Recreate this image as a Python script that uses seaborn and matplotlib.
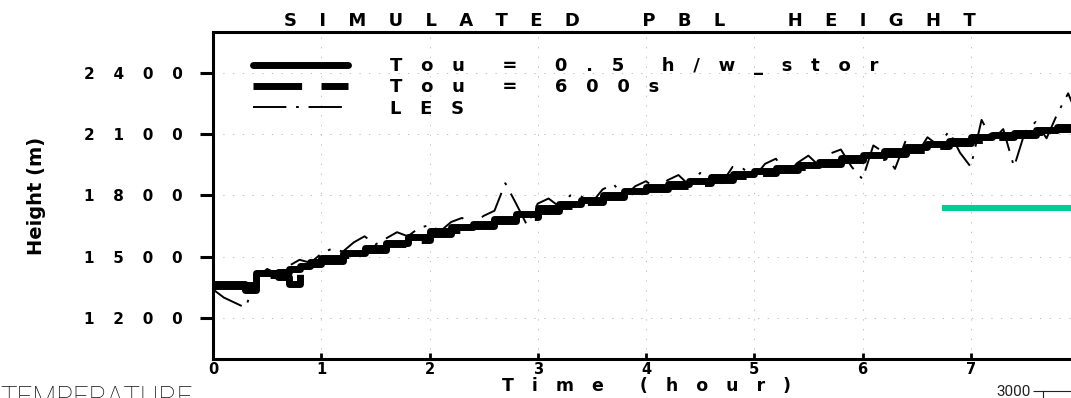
import numpy as np
import pandas as pd
import matplotlib
matplotlib.use("Agg")
import matplotlib.pyplot as plt
import seaborn as sns
from matplotlib import font_manager

# ---- data -------------------------------------------------------------
hours_model = [0.0, 0.1, 0.2, 0.3, 0.4, 0.5, 0.6, 0.7, 0.8, 0.9, 1.0,
               1.2, 1.4, 1.6, 1.8, 2.0, 2.2, 2.4, 2.6, 2.8, 3.0,
               3.2, 3.4, 3.6, 3.8, 4.0, 4.2, 4.4, 4.6, 4.8, 5.0,
               5.2, 5.4, 5.6, 5.8, 6.0, 6.2, 6.4, 6.6, 6.8, 7.0,
               7.2, 7.4, 7.6, 7.8, 8.0]

pbl_tou_05 = [1365, 1365, 1365, 1335, 1420, 1420, 1425, 1440, 1455, 1475, 1495,
              1520, 1545, 1565, 1595, 1625, 1645, 1660, 1685, 1710, 1740,
              1760, 1780, 1800, 1820, 1840, 1855, 1870, 1890, 1905, 1920,
              1935, 1950, 1965, 1985, 2000, 2020, 2035, 2050, 2065, 2085,
              2095, 2105, 2120, 2135, 2150]

pbl_tou_600 = [1355, 1355, 1355, 1360, 1400, 1410, 1400, 1365, 1440, 1465, 1480,
               1510, 1535, 1560, 1580, 1610, 1630, 1650, 1675, 1695, 1725,
               1750, 1770, 1790, 1810, 1830, 1845, 1860, 1875, 1895, 1910,
               1925, 1940, 1955, 1975, 1990, 2005, 2025, 2040, 2055, 2070,
               2085, 2095, 2110, 2125, 2140]

hours_les = np.round(np.arange(0, 81) * 0.1, 1)
pbl_les = [1340, 1300, 1275, 1250, 1395, 1440, 1415, 1455, 1485, 1470,
           1515, 1540, 1525, 1570, 1600, 1560, 1590, 1620, 1600, 1640,
           1655, 1625, 1670, 1690, 1660, 1700, 1725, 1860, 1760, 1655,
           1760, 1785, 1745, 1800, 1795, 1765, 1830, 1855, 1795, 1845,
           1870, 1830, 1875, 1900, 1850, 1910, 1885, 1860, 1940, 1930,
           1890, 1955, 1980, 1905, 1960, 1995, 1945, 2005, 2025, 1940,
           1880, 2045, 2010, 1930, 2070, 2000, 2085, 2045, 2115, 2010,
           1940, 2170, 2070, 2125, 1940, 2110, 2160, 2080, 2200, 2300,
           2170]

series_labels = ["Tou = 0.5 h/w_stor", "Tou = 600s", "LES"]
x_ticks = [0, 1, 2, 3, 4, 5, 6, 7, 8]
y_ticks = [1200, 1500, 1800, 2100, 2400]

overlay_level_m = 1740
overlay_hours = [6.73, 8.0]

temp_ticks = [3000]

# ---- style ------------------------------------------------------------
sns.set_theme(style="white")
plt.rcParams["font.family"] = ["DejaVu Sans"]
plt.rcParams["lines.scale_dashes"] = False
for key in ("text.color", "axes.labelcolor", "xtick.color", "ytick.color"):
    plt.rcParams[key] = "black"

names = {f.name for f in font_manager.fontManager.ttflist}
narrow = "Liberation Sans Narrow" if "Liberation Sans Narrow" in names else "DejaVu Sans"
thin = "Roboto" if "Roboto" in names else "DejaVu Sans"

GAP = "   \u2009"


def spaced(text, gap=GAP, word_gap=" " * 6):
    return word_gap.join(gap.join(w) for w in text.split(" "))


W, H = 1071, 398
fig = plt.figure(figsize=(W / 100, H / 100), dpi=100)
fig.patch.set_facecolor("white")

# main panel (its right edge lies just past the figure border)
ax = fig.add_axes([213 / W, (H - 358.8) / H, 866 / W, 326.7 / H])

df_les = pd.DataFrame({"hour": hours_les, "height": pbl_les})
df_600 = pd.DataFrame({"hour": hours_model, "height": pbl_tou_600})
df_05 = pd.DataFrame({"hour": hours_model, "height": pbl_tou_05})

sns.lineplot(data=df_05, x="hour", y="height", ax=ax, estimator=None,
             color="black", linewidth=5, drawstyle="steps-post",
             label=spaced(series_labels[0], gap="   "), zorder=3)
sns.lineplot(data=df_600, x="hour", y="height", ax=ax, estimator=None,
             color="black", linewidth=5, drawstyle="steps-post",
             linestyle=(0, (35, 14)), label=spaced(series_labels[1], gap="   "),
             zorder=3)
sns.lineplot(data=df_les, x="hour", y="height", ax=ax, estimator=None,
             color="black", linewidth=1.4, linestyle=(0, (24, 7, 2, 7)),
             label=spaced(series_labels[2], gap="   "), zorder=4)

ax.plot(overlay_hours, [overlay_level_m, overlay_level_m], color="#00CC96",
        linewidth=4.4, solid_capstyle="butt", zorder=5)

ax.set_xlim(0, 8)
ax.set_ylim(1000, 2600)
ax.grid(True, color="0.72", linestyle=(0, (1, 6)), linewidth=0.6)

ax.set_xticks(x_ticks)
ax.set_xticklabels([str(v) for v in x_ticks], fontsize=10.5, fontweight="bold")
ax.set_yticks(y_ticks)
ax.set_yticklabels([spaced(str(v)) for v in y_ticks], fontsize=11, fontweight="bold")
ax.tick_params(axis="y", direction="out", length=9.4, width=2.2, pad=12.2,
               colors="black", left=True)
ax.tick_params(axis="x", direction="in", length=4, width=2, pad=2.3,
               colors="black", bottom=True)
for s in ax.spines.values():
    s.set_visible(True)
    s.set_linewidth(2.2)
    s.set_color("black")

ax.set_xlabel(spaced("Time (hour)", gap="   "), fontsize=12.5, fontweight="bold",
              va="baseline", color="black")
ax.xaxis.set_label_coords(0.5, -(391 - 358.8) / 326.7)
ax.set_ylabel("Height (m)", fontsize=14, fontweight="bold", family=narrow,
              va="center", color="black")
ax.yaxis.set_label_coords(-(213 - 37) / 866, 0.5)

ax.text((630 - 213) / 866, (358.8 - 26) / 326.7,
        spaced("SIMULATED PBL HEIGHT", word_gap=" " * 10),
        transform=ax.transAxes, ha="center", va="baseline", fontsize=13,
        fontweight="bold", color="black")

leg = ax.legend(loc="upper left",
                bbox_to_anchor=((253 - 213) / 866, (358.8 - 57) / 326.7),
                frameon=False, prop={"weight": "bold", "size": 13},
                handlelength=95 / 18, handletextpad=(390 - 348) / 18,
                labelspacing=0.18, borderpad=0, borderaxespad=0)
for t in leg.get_texts():
    t.set_color("black")

# neighbouring panel below
ax2 = fig.add_axes([1043 / W, (H - 391) / H - 0.5, 0.2, 0.5])
ax2.set_ylim(0, 3000)
ax2.set_yticks(temp_ticks)
ax2.set_yticklabels([str(v) for v in temp_ticks], family=thin, fontweight="normal",
                    fontsize=11, color="#222222")
ax2.set_xticks([])
ax2.tick_params(axis="y", direction="out", length=7.2, width=0.8, pad=2,
                colors="#222222", left=True)
for name, s in ax2.spines.items():
    s.set_visible(name in ("left", "top"))
    s.set_linewidth(0.8)
    s.set_color("#222222")

fig.text(0, (H - 405.7) / H, "TEMPERATURE", family=thin, fontweight="light",
         fontsize=20, color="#111111", ha="left", va="baseline")

fig.savefig("out.png", dpi=100)
